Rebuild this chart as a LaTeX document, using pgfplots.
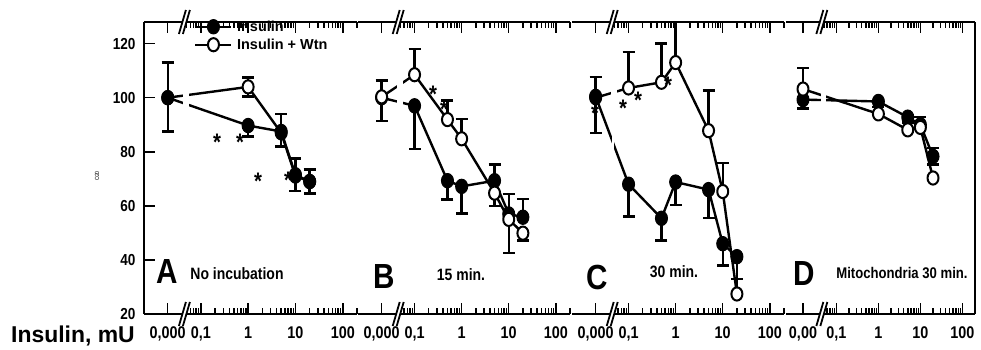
\documentclass[border=0pt]{standalone}
\usepackage{fontspec}
\setmainfont{Liberation Sans}[FakeStretch=0.85]
\newfontfamily\widesans{Liberation Sans}
\usepackage{pgfplots}
\usepackage{pgfplotstable}
\pgfplotsset{compat=1.18}

% x: insulin (mU); the zero dose sits left of the axis break
% columns: x, y, upper error, lower error
\pgfplotstableread{
x y ep em
0.02 100 13 12.5
1 89.7 0 4
5 87.5 6.5 5.5
10 71.5 6 6
20 69 4.5 4.5
}\Afill
\pgfplotstableread{
x y ep em
0.02 100 0 0
1 104 3.5 3.5
5 87 0 0
10 71 0 0
20 69 0 0
}\Aopen
\pgfplotstableread{
x y ep em
0.02 100 0 0
0.1 97 0 16
0.5 69.3 0 7
1 67.2 0 10
5 69.3 6 0
10 57 7.4 0
20 55.8 6.7 0
}\Bfill
\pgfplotstableread{
x y ep em
0.02 100.3 6 9
0.1 108.5 9.5 0
0.5 91.9 7 0
1 84.8 7.4 0
5 64.7 0 4.7
10 55 0 12.5
20 49.9 0 2.7
}\Bopen
\pgfplotstableread{
x y ep em
0.02 100.5 7.2 13.5
0.1 68 0 12
0.5 55.4 0 8.2
1 68.8 0 8.4
5 66 0 10.6
10 46 0 8
20 41.2 0 8.3
}\Cfill
\pgfplotstableread{
x y ep em
0.02 100 0 0
0.1 103.6 13.4 0
0.5 105.7 14.3 0
1 113 15 0
5 87.8 14.8 0
10 65.3 10.5 0
20 27.4 5.5 0
}\Copen
\pgfplotstableread{
x y ep em
0.016 99.3 0 3.3
1 98.6 0 2
5 92.8 0 2
10 90 0 0
20 78.3 3 3
}\Dfill
\pgfplotstableread{
x y ep em
0.016 103.2 7.8 0
1 94 0 0
5 88.1 0 0
10 89 3.8 0
20 70.3 0 0
}\Dopen

\pgfplotsset{
  every axis/.append style={
    xmode=log,
    scale only axis, height=292bp, anchor=south west,
    ymin=20, ymax=128, xmin=0.0063, xmax=200,
    axis x line*=box,
    axis line style={line width=2bp},
    tick align=inside,
    major tick length=11bp, minor tick length=6bp,
    tick style={line width=1.5bp, black},
    xticklabel style={font=\fontsize{17}{17}\selectfont\bfseries, yshift=-9bp},
    minor xtick={0.05,0.06,0.07,0.08,0.09,0.2,0.3,0.4,0.5,0.6,0.7,0.8,0.9,2,3,4,5,6,7,8,9,20,30,40,50,60,70,80,90,200},
  },
  filledS/.style={black, line width=2.4bp, line join=round, mark=*, mark size=6bp,
    mark options={fill=black, line width=1bp, yscale=1.2}},
  openS/.style={black, line width=2.4bp, line join=round, mark=*, mark size=5.5bp,
    mark options={fill=white, line width=2bp, yscale=1.2}},
  eb/.style={error bars/y dir=both, error bars/y explicit,
    error bars/error bar style={line width=2.4bp},
    error bars/error mark options={rotate=90, mark size=6bp, line width=2.4bp}},
  legend image code/.code={\draw[mark repeat=2,mark phase=2,#1]
    plot coordinates {(0bp,0bp) (18bp,0bp) (36bp,0bp)};},
}

\newcommand\brk[1]{%
  \fill[white] ([xshift=-5.5bp,yshift=-12bp]#1) -- ([xshift=1.5bp,yshift=12bp]#1)
    -- ([xshift=5.5bp,yshift=12bp]#1) -- ([xshift=-1.5bp,yshift=-12bp]#1) -- cycle;
  \draw[line width=1.8bp] ([xshift=-5.5bp,yshift=-12bp]#1) -- ([xshift=1.5bp,yshift=12bp]#1);
  \draw[line width=1.8bp] ([xshift=-1.5bp,yshift=-12bp]#1) -- ([xshift=5.5bp,yshift=12bp]#1);}

\begin{document}
\begin{tikzpicture}
\path[use as bounding box] (0bp,0bp) rectangle (981bp,350bp);

% A: no incubation
\begin{axis}[at={(144bp,36bp)}, width=213bp,
  xtick={0.02,0.1,1,10,100}, xticklabels={{0,000},{0,1},1,10,100},
  axis y line*=left, ytick={20,40,60,80,100,120},
  yticklabels={20,40,60,80,100,120},
  yticklabel style={font=\fontsize{16}{16}\selectfont\bfseries, xshift=-5bp},
  legend style={at={(0.235,1.01)}, anchor=north west, draw=none, fill=none,
    inner sep=0pt, row sep=3bp, column sep=3bp,
    font=\widesans\fontsize{14.5}{14.5}\selectfont\bfseries, nodes={inner sep=1.5bp}},
  legend cell align=left]
\addplot[openS, eb, forget plot] table[x=x, y=y, y error plus=ep, y error minus=em] {\Aopen};
\addplot[filledS, eb, forget plot] table[x=x, y=y, y error plus=ep, y error minus=em] {\Afill};
\addlegendimage{filledS}\addlegendentry{Insulin}
\addlegendimage{openS}\addlegendentry{Insulin + Wtn}
\fill[white] (axis cs:0.042,25) rectangle (axis cs:0.056,122);
\coordinate (Ab) at (axis cs:0.045,20);
\coordinate (At) at (axis cs:0.045,128);
\end{axis}

% B: 15 min
\begin{axis}[at={(358bp,36bp)}, width=212bp, axis y line=none, ytick=\empty,
  xtick={0.02,0.1,1,10,100}, xticklabels={{0,000},{0,1},1,10,100}]
\addplot[filledS, eb] table[x=x, y=y, y error plus=ep, y error minus=em] {\Bfill};
\addplot[openS, eb] table[x=x, y=y, y error plus=ep, y error minus=em] {\Bopen};
\fill[white] (axis cs:0.042,25) rectangle (axis cs:0.056,122);
\coordinate (Bb) at (axis cs:0.045,20);
\coordinate (Bt) at (axis cs:0.045,128);
\end{axis}

% C: 30 min
\begin{axis}[at={(572bp,36bp)}, width=212bp, axis y line=none, ytick=\empty,
  xtick={0.02,0.1,1,10,100}, xticklabels={{0,000},{0,1},1,10,100}]
\addplot[openS, eb] table[x=x, y=y, y error plus=ep, y error minus=em] {\Copen};
\addplot[filledS, eb] table[x=x, y=y, y error plus=ep, y error minus=em] {\Cfill};
\fill[white] (axis cs:0.0425,90) rectangle (axis cs:0.056,122);
\fill[white] (axis cs:0.0455,25) rectangle (axis cs:0.05,90);
\coordinate (Cb) at (axis cs:0.045,20);
\coordinate (Ct) at (axis cs:0.045,128);
\end{axis}

% D: mitochondria, 30 min
\begin{axis}[at={(786bp,36bp)}, width=189bp, axis y line*=right, ytick=\empty,
  xtick={0.016,0.1,1,10,100}, xticklabels={{0,00},{0,1},1,10,100}]
\addplot[filledS, eb] table[x=x, y=y, y error plus=ep, y error minus=em] {\Dfill};
\addplot[openS, eb] table[x=x, y=y, y error plus=ep, y error minus=em] {\Dopen};
\fill[white] (axis cs:0.042,25) rectangle (axis cs:0.056,122);
\coordinate (Db) at (axis cs:0.045,20);
\coordinate (Dt) at (axis cs:0.045,128);
\end{axis}

% axis breaks
\brk{Ab}\brk{At}\brk{Bb}\brk{Bt}\brk{Cb}\brk{Ct}\brk{Db}\brk{Dt}

\begin{scope}[x=1bp,y=1bp]
% significance marks
\begin{scope}[every node/.style={font=\fontsize{24}{24}\selectfont\bfseries, inner sep=0pt}]
\node at (217,208) {*};
\node at (240,208) {*};
\node at (258,169) {*};
\node at (288,170) {*};
\node at (433,256) {*};
\node at (444,241) {*};
\node at (595,237) {*};
\node at (623,242) {*};
\node at (638,250) {*};
\node at (668,265) {*};
\end{scope}

% panel captions
\node[font=\fontsize{35}{35}\selectfont\bfseries, inner sep=0pt] at (167,78) {A};
\node[font=\fontsize{16.5}{16.5}\selectfont\bfseries, inner sep=0pt] at (237,76) {No incubation};
\node[font=\fontsize{35}{35}\selectfont\bfseries, inner sep=0pt] at (384,73) {B};
\node[font=\fontsize{16.5}{16.5}\selectfont\bfseries, inner sep=0pt] at (461,75) {15 min.};
\node[font=\fontsize{35}{35}\selectfont\bfseries, inner sep=0pt] at (597,73) {C};
\node[font=\fontsize{16.5}{16.5}\selectfont\bfseries, inner sep=0pt] at (674,78) {30 min.};
\node[font=\fontsize{35}{35}\selectfont\bfseries, inner sep=0pt] at (804,76) {D};
\node[font=\fontsize{15.5}{15.5}\selectfont\bfseries, inner sep=0pt] at (902,77) {Mitochondria 30 min.};

% axis titles
\node[font=\widesans\fontsize{23}{23}\selectfont\bfseries, anchor=base west, inner sep=0pt] at (11,8) {Insulin, mU};
\node[font=\fontsize{6}{6}\selectfont, rotate=90, inner sep=0pt] at (97,174) {O20};
\end{scope}
\end{tikzpicture}
\end{document}
